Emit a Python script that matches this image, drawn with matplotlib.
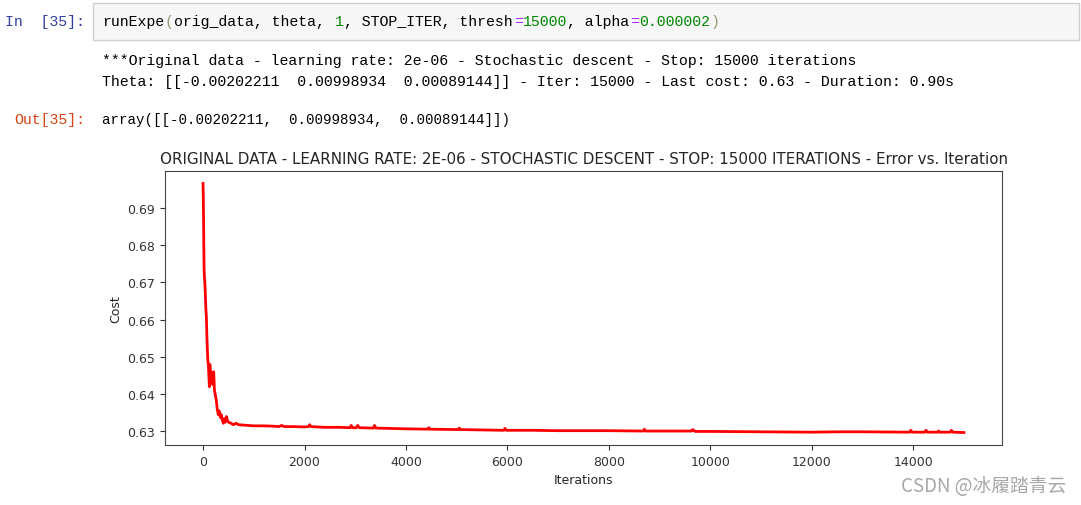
import matplotlib
matplotlib.use("Agg")
import matplotlib.pyplot as plt
from matplotlib.patches import Rectangle

# ---- data ----
iters = [0, 5, 10, 15, 20, 25, 35, 45, 55, 65, 75, 85, 95, 105, 115, 125, 135,
         145, 155, 165, 175, 185, 195, 210, 225, 240, 260, 280, 300, 320, 340,
         360, 380, 400, 420, 440, 460, 480, 500, 550, 600, 650, 700, 800, 900,
         1000, 1200, 1400, 1500, 1550, 1600, 1800, 2000, 2080, 2100, 2130, 2400,
         2700, 2900, 2920, 2950, 3020, 3050, 3080, 3360, 3380, 3410, 3700, 4000,
         4430, 4450, 4470, 5030, 5050, 5070, 5500, 5930, 5950, 5980, 6500, 7000,
         7500, 8000, 8680, 8700, 8720, 9000, 9630, 9650, 9700, 10000, 11000,
         12000, 12500, 13000, 13930, 13950, 13980, 14230, 14250, 14280, 14480,
         14500, 14520, 14730, 14750, 14780, 14999]
costs = [0.6966, 0.6930, 0.6870, 0.6800, 0.6740, 0.6720, 0.6700, 0.6670, 0.6630,
         0.6610, 0.6560, 0.6520, 0.6490, 0.6480, 0.6450, 0.6420, 0.6480, 0.6440,
         0.6430, 0.6460, 0.6440, 0.6455, 0.6425, 0.6460, 0.6410, 0.6400, 0.6385,
         0.6360, 0.6345, 0.6355, 0.6338, 0.6345, 0.6330, 0.6322, 0.6334, 0.6325,
         0.6340, 0.6330, 0.6325, 0.6322, 0.6318, 0.6322, 0.6318, 0.6317, 0.6316,
         0.6315, 0.6315, 0.6314, 0.6313, 0.6316, 0.6313, 0.6313, 0.6312, 0.6313,
         0.6318, 0.6313, 0.6311, 0.6311, 0.6310, 0.6316, 0.6310, 0.6310, 0.6316,
         0.6310, 0.6309, 0.6316, 0.6309, 0.6308, 0.6307, 0.6306, 0.6310, 0.6306,
         0.6305, 0.6309, 0.6305, 0.6304, 0.6303, 0.6308, 0.6303, 0.6303, 0.6302,
         0.6302, 0.6302, 0.6301, 0.6306, 0.6301, 0.6301, 0.6301, 0.6305, 0.6300,
         0.6300, 0.6299, 0.6298, 0.6299, 0.6299, 0.6298, 0.6303, 0.6298, 0.6298,
         0.6303, 0.6298, 0.6298, 0.6301, 0.6298, 0.6298, 0.6303, 0.6298, 0.6297]

title = ("ORIGINAL DATA - LEARNING RATE: 2E-06 - STOCHASTIC DESCENT - "
         "STOP: 15000 ITERATIONS - Error vs. Iteration")
x_ticks = [0, 2000, 4000, 6000, 8000, 10000, 12000, 14000]
y_ticks = [0.63, 0.64, 0.65, 0.66, 0.67, 0.68, 0.69]
code_prompt = "In  [35]:"
out_prompt = "Out[35]:"
stdout_lines = [
    "***Original data - learning rate: 2e-06 - Stochastic descent - Stop: 15000 iterations",
    "Theta: [[-0.00202211  0.00998934  0.00089144]] - Iter: 15000 - Last cost: 0.63 - Duration: 0.90s",
]
out_line = "array([[-0.00202211,  0.00998934,  0.00089144]])"
watermark = "CSDN @冰履踏青云"

code_tokens = [
    ("runExpe", "#000000"), ("(", "#999977"), ("orig_data, theta, ", "#000000"),
    ("1", "#008800"), (", STOP_ITER, thresh", "#000000"), ("=", "#AA22FF"),
    ("15000", "#008800"), (", alpha", "#000000"), ("=", "#AA22FF"),
    ("0.000002", "#008800"), (")", "#999977"),
]

W, H = 1081, 506
fig = plt.figure(figsize=(W / 100, H / 100), dpi=100)
fig.patch.set_facecolor("white")

mono = ["Liberation Mono", "DejaVu Sans Mono"]
fsz = 10.75
char_w = 8.95


def fx(px):
    return px / W


def fy(py):
    return 1 - py / H


fig.patches.append(Rectangle((fx(93), fy(41)), fx(1079) - fx(93), fy(4) - fy(41),
                             transform=fig.transFigure, facecolor="#f7f7f7",
                             edgecolor="#cfcfcf", linewidth=1))

fig.text(fx(85), fy(22), code_prompt, family=mono, fontsize=fsz, color="#303F9F",
         ha="right", va="center")
x = 102
for tok, col in code_tokens:
    fig.text(fx(x), fy(22), tok, family=mono, fontsize=fsz, color=col,
             ha="left", va="center")
    x += len(tok) * char_w

fig.text(fx(102), fy(61), stdout_lines[0], family=mono, fontsize=fsz, color="black",
         ha="left", va="center")
fig.text(fx(102), fy(82), stdout_lines[1], family=mono, fontsize=fsz, color="black",
         ha="left", va="center")
fig.text(fx(85), fy(120), out_prompt, family=mono, fontsize=fsz, color="#D84315",
         ha="right", va="center")
fig.text(fx(102), fy(120), out_line, family=mono, fontsize=10.2, color="black",
         ha="left", va="center")

ax = fig.add_axes([fx(165), fy(446), fx(1002) - fx(165), fy(172) - fy(446)])
ax.plot(iters, costs, color="red", linewidth=2.0)
ax.set_title(title, fontsize=10.9, color="#262626", pad=6)
ax.set_xlabel("Iterations", fontsize=9, color="#262626")
ax.set_ylabel("Cost", fontsize=9, color="#262626")
ax.set_xticks(x_ticks)
ax.set_yticks(y_ticks)
ax.tick_params(labelsize=9, colors="#333333")
for s in ax.spines.values():
    s.set_color("#444444")

fig.text(fx(1066), fy(487), watermark, family=["Noto Sans CJK SC", "DejaVu Sans"],
         fontsize=13.5, color="#a8a8a8", ha="right", va="center")

fig.savefig("out.png", dpi=100)
